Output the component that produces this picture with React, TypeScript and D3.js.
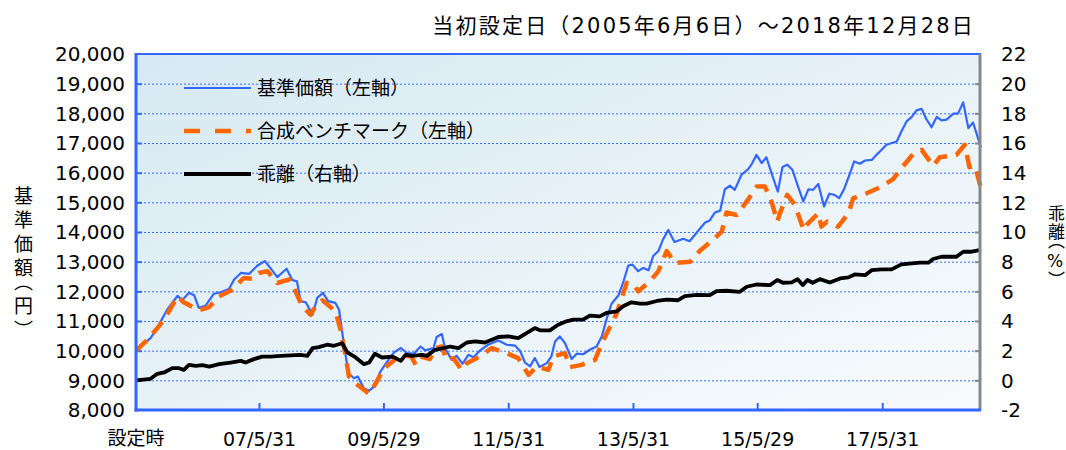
import React from 'react';
import * as d3 from 'd3';

// months elapsed since the launch date (2005/6/6) for each reading
const navMonths = [0, 2.8, 4.4, 6, 8, 8.9, 10.2, 11.2, 12.1, 13.4, 15, 16.3, 17.9, 18.9, 20.2, 21.8, 23.4, 24.8, 25.6, 27.2, 29, 30.1, 31, 31.7, 32.7, 34, 34.9, 36, 37, 38.4, 39.1, 40, 40.9, 42, 42.7, 43.9, 44.9, 45.8, 47.1, 48.4, 49.7, 51, 52.2, 53.5, 54.8, 55.7, 57.3, 57.9, 58.9, 59.5, 60.8, 61.7, 62.9, 64, 65, 66.2, 67.8, 69.8, 71.4, 73, 74, 74.9, 75.9, 76.8, 77.7, 79.1, 80, 80.7, 81.6, 82.6, 83.9, 84.9, 86.1, 87.4, 88.7, 89.7, 90.6, 91.6, 92.9, 93.8, 94.8, 95.6, 96.7, 97.7, 98.7, 99.6, 100.6, 101.5, 102.5, 103.7, 105.4, 106.6, 108.6, 109.6, 110.5, 111.5, 112.5, 113.4, 114.4, 115.3, 116.6, 117.9, 118.5, 119.5, 120.5, 121.4, 122.6, 123.6, 124.5, 125.4, 126.4, 127.5, 128.5, 129.5, 130.4, 131.4, 132.5, 133.5, 134.5, 135.4, 136.3, 137.4, 138.3, 139.4, 140.4, 141.7, 142.6, 143.6, 144.5, 146.5, 147.4, 148.4, 149.4, 150.3, 151.3, 152.2, 153.2, 154.2, 155.1, 156.1, 157.4, 158.3, 159.3, 160.3, 161.2, 162.7];
const navValues = [10000, 10420, 10870, 11380, 11850, 11700, 11950, 11870, 11440, 11520, 11920, 11970, 12080, 12400, 12620, 12590, 12870, 13020, 12850, 12480, 12760, 12380, 12340, 11670, 11630, 11210, 11780, 11950, 11670, 11610, 11380, 10260, 9240, 9070, 9130, 8730, 8650, 8790, 9300, 9640, 9940, 10090, 9920, 9900, 10140, 10010, 10090, 10460, 10560, 10090, 9690, 9830, 9560, 9860, 9780, 10000, 10200, 10340, 10200, 10170, 9980, 9600, 9470, 9750, 9450, 9580, 9810, 10310, 10480, 10260, 9720, 9900, 9880, 10030, 10140, 10480, 11050, 11590, 11860, 12290, 12870, 12900, 12680, 12790, 12710, 13190, 13360, 13750, 14070, 13660, 13770, 13690, 14110, 14320, 14390, 14660, 14720, 15440, 15560, 15420, 15930, 16120, 16270, 16600, 16320, 16520, 15870, 15360, 16190, 16270, 16100, 15530, 15030, 15440, 15420, 15620, 14860, 15290, 15250, 15140, 15420, 15930, 16380, 16300, 16410, 16430, 16600, 16770, 16940, 17050, 17390, 17730, 17880, 18100, 18150, 17810, 17530, 17880, 17760, 17790, 17990, 17990, 18370, 17500, 17690, 16850];

const benchMonths = [0, 2.2, 4.4, 5.7, 8, 9.2, 12.1, 14.1, 16, 18.2, 20.8, 22.4, 23.7, 25.3, 27.2, 29.5, 30.4, 32, 33.6, 34.6, 35.9, 38.4, 39.4, 40.4, 41, 42.3, 43.9, 44.9, 46.1, 47.8, 49, 51, 53, 53.9, 54.8, 56.6, 57.6, 58.9, 59.8, 61.1, 62.7, 63.7, 66.2, 68.5, 71.4, 73.6, 75.6, 77.2, 79.4, 80.4, 82.6, 83.6, 85.8, 88.4, 89.7, 91, 92.6, 94.5, 95.8, 96.7, 99, 100.6, 102.2, 103.8, 106.7, 108.6, 111.2, 112.8, 113.7, 115.7, 117.9, 119.5, 121.1, 122.2, 123.5, 124, 125.4, 126.9, 127.9, 128.6, 129.1, 131.4, 132, 133.1, 135.2, 137.2, 138.1, 140.7, 143.3, 145.8, 147.4, 149.7, 151.3, 153.5, 154.8, 158, 159.6, 160.5, 161.6, 162.7];
const benchValues = [10000, 10370, 10820, 11130, 11830, 11630, 11360, 11470, 11830, 12020, 12450, 12420, 12620, 12680, 12280, 12400, 12120, 11500, 11210, 11500, 11700, 11330, 10700, 9800, 9130, 8900, 8680, 8540, 8880, 9410, 9580, 9860, 9800, 9520, 9800, 9715, 10085, 10140, 9690, 9750, 9350, 9580, 9805, 10085, 9915, 9750, 9185, 9465, 9350, 9805, 9915, 9445, 9520, 9690, 10255, 10705, 11270, 12285, 12230, 12000, 12340, 12680, 13355, 12960, 12995, 13370, 13750, 14010, 14655, 14575, 15100, 15530, 15530, 15135, 14350, 14630, 15250, 14910, 14405, 14065, 14235, 14630, 14180, 14350, 14180, 14630, 15135, 15305, 15510, 15780, 16150, 16635, 16770, 16230, 16520, 16600, 16940, 16185, 16230, 15480];

const gapMonths = [0, 2.8, 4.1, 5.4, 7, 8.3, 9.2, 10.2, 11.5, 12.8, 14.1, 16, 18.2, 20.2, 21.1, 22.7, 24.3, 25.9, 27.9, 29.8, 31.7, 33, 34, 35.2, 36.8, 38.1, 39.7, 40.7, 42.3, 43.9, 44.9, 46, 47.4, 49.4, 51, 51.9, 53.2, 55.1, 56, 57.6, 59.2, 60.5, 62.1, 63.7, 65.3, 67.2, 68.5, 69.8, 71.7, 73.6, 75.2, 76.8, 77.8, 79.7, 81.3, 82.9, 84.2, 86.1, 87.4, 89.3, 90.6, 92.6, 93.8, 95.4, 97.1, 98.3, 100.3, 102.2, 104.4, 105.7, 108, 110.5, 111.8, 113.7, 116.3, 117.6, 119.5, 122.1, 123.5, 124.6, 126.3, 127.4, 128.4, 129.3, 130.3, 131.7, 133.6, 135.6, 137.2, 138.4, 140.4, 141.7, 143.6, 145.5, 147.4, 149.4, 151, 152.6, 153.5, 155.1, 158, 159.3, 160.9, 162.7];
const gapValues = [0, 0.1, 0.44, 0.53, 0.82, 0.82, 0.7, 1.04, 0.98, 1.02, 0.93, 1.09, 1.2, 1.31, 1.2, 1.43, 1.6, 1.6, 1.65, 1.68, 1.72, 1.65, 2.17, 2.24, 2.4, 2.33, 2.5, 1.88, 1.54, 1.09, 1.2, 1.79, 1.54, 1.6, 1.31, 1.72, 1.65, 1.72, 1.65, 2.06, 2.17, 2.28, 2.17, 2.55, 2.62, 2.55, 2.73, 2.92, 2.96, 2.85, 3.19, 3.52, 3.37, 3.37, 3.75, 3.98, 4.09, 4.09, 4.36, 4.31, 4.54, 4.65, 4.99, 5.26, 5.17, 5.17, 5.35, 5.44, 5.4, 5.67, 5.76, 5.74, 6.01, 6.04, 5.97, 6.31, 6.46, 6.42, 6.76, 6.58, 6.6, 6.82, 6.42, 6.76, 6.58, 6.82, 6.6, 6.87, 6.94, 7.14, 7.09, 7.43, 7.48, 7.48, 7.82, 7.88, 7.93, 7.93, 8.18, 8.33, 8.33, 8.67, 8.67, 8.8];

const leftTicks = [8000, 9000, 10000, 11000, 12000, 13000, 14000, 15000, 16000, 17000, 18000, 19000, 20000];
const rightTicks = [-2, 0, 2, 4, 6, 8, 10, 12, 14, 16, 18, 20, 22];
const xTickDates = ['2007-05-31', '2009-05-29', '2011-05-31', '2013-05-31', '2015-05-29', '2017-05-31'];
const xTickLabels = ['07/5/31', '09/5/29', '11/5/31', '13/5/31', '15/5/29', '17/5/31'];

const title = '当初設定日（2005年6月6日）～2018年12月28日';
const legendNames = ['基準価額（左軸）', '合成ベンチマーク（左軸）', '乖離（右軸）'];

const startDate = new Date(2005, 5, 6);
const endDate = new Date(2018, 11, 28);
const monthToDate = (m: number) => new Date(startDate.getTime() + m * 30.4375 * 864e5);

const FONT = "'DejaVu Sans', 'Noto Sans CJK JP', sans-serif";

const App = () => {
  const svgRef = React.useRef(null);
  const width = 1066;
  const height = 450;
  const plot = { left: 136, right: 981, top: 54, bottom: 410 };

  React.useEffect(() => {
    const x = d3.scaleTime().domain([startDate, endDate]).range([plot.left, plot.right]);
    const yL = d3.scaleLinear().domain([8000, 20000]).range([plot.bottom, plot.top]);
    const yR = d3.scaleLinear().domain([-2, 22]).range([plot.bottom, plot.top]);

    const svg = d3.select(svgRef.current);
    svg.selectAll('*').remove();
    svg.attr('font-family', FONT);

    // background gradient
    const grad = svg
      .append('defs')
      .append('linearGradient')
      .attr('id', 'bg')
      .attr('x1', '0%')
      .attr('y1', '0%')
      .attr('x2', '100%')
      .attr('y2', '100%');
    grad.append('stop').attr('offset', '0%').attr('stop-color', '#d6e9f2');
    grad.append('stop').attr('offset', '100%').attr('stop-color', '#f8fbfd');
    svg
      .append('rect')
      .attr('x', plot.left)
      .attr('y', plot.top)
      .attr('width', plot.right - plot.left)
      .attr('height', plot.bottom - plot.top)
      .attr('fill', 'url(#bg)');

    // dotted grid
    svg
      .append('g')
      .selectAll('line')
      .data(leftTicks.slice(1, -1))
      .enter()
      .append('line')
      .attr('x1', plot.left)
      .attr('x2', plot.right)
      .attr('y1', (d) => yL(d) + 0.5)
      .attr('y2', (d) => yL(d) + 0.5)
      .attr('stroke', '#3d6cf5')
      .attr('stroke-width', 1)
      .attr('stroke-dasharray', '2,2');

    // left ticks
    svg
      .append('g')
      .selectAll('line')
      .data(leftTicks.slice(1, -1))
      .enter()
      .append('line')
      .attr('x1', plot.left)
      .attr('x2', plot.left + 6)
      .attr('y1', (d) => yL(d) + 0.5)
      .attr('y2', (d) => yL(d) + 0.5)
      .attr('stroke', '#3366ff')
      .attr('stroke-width', 2);
    // right ticks
    svg
      .append('g')
      .selectAll('line')
      .data(rightTicks.slice(1, -1))
      .enter()
      .append('line')
      .attr('x1', plot.right - 6)
      .attr('x2', plot.right)
      .attr('y1', (d) => yR(d) + 0.5)
      .attr('y2', (d) => yR(d) + 0.5)
      .attr('stroke', '#888')
      .attr('stroke-width', 2);
    // bottom ticks
    svg
      .append('g')
      .selectAll('line')
      .data(xTickDates)
      .enter()
      .append('line')
      .attr('x1', (d) => x(new Date(d)))
      .attr('x2', (d) => x(new Date(d)))
      .attr('y1', plot.bottom)
      .attr('y2', plot.bottom - 7)
      .attr('stroke', '#3366ff')
      .attr('stroke-width', 2);

    // series
    const navLine = d3
      .line<number>()
      .x((m) => x(monthToDate(m)))
      .y((m, i) => yL(navValues[i]));
    const benchLine = d3
      .line<number>()
      .x((m) => x(monthToDate(m)))
      .y((m, i) => yL(benchValues[i]));
    const gapLine = d3
      .line<number>()
      .x((m) => x(monthToDate(m)))
      .y((m, i) => yR(gapValues[i]));

    svg
      .append('path')
      .attr('d', navLine(navMonths))
      .attr('fill', 'none')
      .attr('stroke', '#3366ff')
      .attr('stroke-width', 2.2)
      .attr('stroke-linejoin', 'round');
    svg
      .append('path')
      .attr('d', benchLine(benchMonths))
      .attr('fill', 'none')
      .attr('stroke', '#ff6600')
      .attr('stroke-width', 4.5)
      .attr('stroke-dasharray', '15,9')
      .attr('stroke-linejoin', 'round');
    svg
      .append('path')
      .attr('d', gapLine(gapMonths))
      .attr('fill', 'none')
      .attr('stroke', '#000')
      .attr('stroke-width', 3.8)
      .attr('stroke-linejoin', 'round');

    // frame
    svg.append('line').attr('x1', plot.left).attr('x2', plot.right).attr('y1', plot.top).attr('y2', plot.top)
      .attr('stroke', '#3366ff').attr('stroke-width', 2);
    svg.append('line').attr('x1', plot.right - 1).attr('x2', plot.right - 1).attr('y1', plot.top).attr('y2', plot.bottom)
      .attr('stroke', '#888').attr('stroke-width', 3);
    svg.append('line').attr('x1', plot.left).attr('x2', plot.left).attr('y1', plot.top - 1).attr('y2', plot.bottom + 1.5)
      .attr('stroke', '#3366ff').attr('stroke-width', 3);
    svg.append('line').attr('x1', plot.left - 1.5).attr('x2', plot.right).attr('y1', plot.bottom).attr('y2', plot.bottom)
      .attr('stroke', '#3366ff').attr('stroke-width', 3);

    // legend
    const legendY = [88, 131, 174];
    const legendG = svg.append('g');
    legendG.append('line').attr('x1', 184).attr('x2', 251).attr('y1', legendY[0]).attr('y2', legendY[0])
      .attr('stroke', '#3366ff').attr('stroke-width', 2.2);
    legendG.append('line').attr('x1', 184).attr('x2', 251).attr('y1', legendY[1]).attr('y2', legendY[1])
      .attr('stroke', '#ff6600').attr('stroke-width', 4.5).attr('stroke-dasharray', '16,15');
    legendG.append('line').attr('x1', 184).attr('x2', 251).attr('y1', legendY[2]).attr('y2', legendY[2])
      .attr('stroke', '#000').attr('stroke-width', 3.8);
    legendG
      .selectAll('text')
      .data(legendNames)
      .enter()
      .append('text')
      .attr('x', 257)
      .attr('y', (d, i) => legendY[i])
      .attr('dy', '0.35em')
      .attr('font-size', 19)
      .attr('fill', '#000')
      .text((d) => d);

    // axis labels
    svg
      .append('g')
      .selectAll('text')
      .data(leftTicks)
      .enter()
      .append('text')
      .attr('x', 125)
      .attr('y', (d) => yL(d))
      .attr('dy', '0.36em')
      .attr('text-anchor', 'end')
      .attr('font-size', 20)
      .text((d) => d3.format(',')(d));
    svg
      .append('g')
      .selectAll('text')
      .data(rightTicks)
      .enter()
      .append('text')
      .attr('x', 1001)
      .attr('y', (d) => yR(d))
      .attr('dy', '0.36em')
      .attr('font-size', 20)
      .text((d) => d);
    svg
      .append('g')
      .selectAll('text')
      .data(xTickDates)
      .enter()
      .append('text')
      .attr('x', (d) => x(new Date(d)))
      .attr('y', 446)
      .attr('text-anchor', 'middle')
      .attr('font-size', 19)
      .text((d, i) => xTickLabels[i]);
    svg
      .append('text')
      .attr('x', x(startDate))
      .attr('y', 445)
      .attr('text-anchor', 'middle')
      .attr('font-size', 19)
      .text('設定時');

    // titles
    svg
      .append('text')
      .attr('x', 975)
      .attr('y', 33)
      .attr('text-anchor', 'end')
      .attr('font-size', 21)
      .attr('letter-spacing', 2.2)
      .text(title);
    svg
      .append('text')
      .attr('x', 22)
      .attr('y', 186)
      .attr('font-size', 19)
      .attr('letter-spacing', 5)
      .style('writing-mode', 'vertical-rl')
      .style('font-feature-settings', "'vhal' 1")
      .text('基準価額（円）');
    svg
      .append('text')
      .attr('x', 1055)
      .attr('y', 205)
      .attr('font-size', 17)
      .attr('letter-spacing', 1)
      .style('writing-mode', 'vertical-rl')
      .style('text-orientation', 'upright')
      .style('font-feature-settings', "'vhal' 1")
      .text('乖離（%）');
  }, []);

  return (
    <svg
      ref={svgRef}
      width={width}
      height={height}
      style={{ position: 'absolute', left: 0, top: 0, background: '#fff' }}
    />
  );
};

export default App;
